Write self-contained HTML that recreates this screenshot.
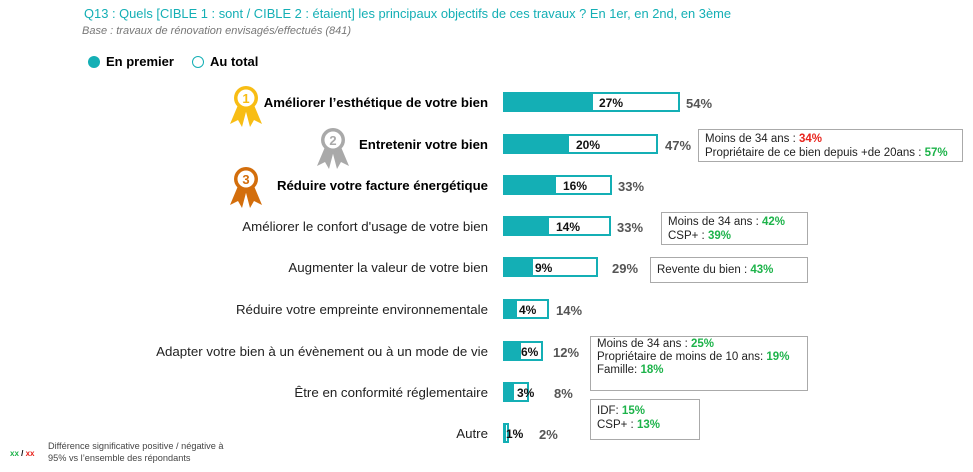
<!DOCTYPE html>
<html><head><meta charset="utf-8"><style>
body{margin:0;width:973px;height:472px;background:#fff;position:relative;overflow:hidden;font-family:"Liberation Sans",sans-serif}
.a{position:absolute;white-space:nowrap}
.lbl{position:absolute;right:485px;font-size:13.3px;color:#222;white-space:nowrap}
.b{font-weight:bold;color:#000;font-size:13.2px}
.bar{position:absolute;left:503px;height:20px;border:2px solid #14afb5;box-sizing:border-box;background:#fff}
.fill{position:absolute;left:503px;height:20px;background:#14afb5}
.in{position:absolute;font-size:12px;font-weight:bold;color:#111}
.tot{position:absolute;font-size:13px;font-weight:bold;color:#555}
.box{position:absolute;border:1px solid #aaa;font-size:11.5px;color:#222;line-height:14px;padding:2px 6px;box-sizing:border-box}
.g{color:#1db34a;font-weight:bold}.r{color:#e8231c;font-weight:bold}
</style></head><body>
<div class="a" style="left:84px;top:6px;font-size:12.9px;color:#14afb5">Q13 : Quels [CIBLE 1 : sont / CIBLE 2 : étaient] les principaux objectifs de ces travaux ? En 1er, en 2nd, en 3ème</div>
<div class="a" style="left:82px;top:25px;font-size:11px;color:#777;font-style:italic">Base : travaux de rénovation envisagés/effectués (841)</div>
<div class="a" style="left:88px;top:56px;width:12px;height:12px;border-radius:50%;background:#14afb5"></div>
<div class="a" style="left:106px;top:54px;font-size:13px;font-weight:bold">En premier</div>
<div class="a" style="left:192px;top:56px;width:10px;height:10px;border-radius:50%;border:1.5px solid #14afb5"></div>
<div class="a" style="left:210px;top:54px;font-size:13px;font-weight:bold">Au total</div>

<svg class="a" style="left:0;top:0" width="973" height="472">
<g fill="#f8bd14"><polygon points="238,105 230,124 238,120 242,127 247,108"/><polygon points="254,105 262,124 254,120 250,127 245,108"/><circle cx="246" cy="98" r="12"/></g>
<circle cx="246" cy="98" r="8.5" fill="#fff"/><text x="246" y="103" font-size="13" font-weight="bold" fill="#f8bd14" text-anchor="middle" font-family="Liberation Sans">1</text>
<g fill="#a9a9a9"><polygon points="325,147 317,166 325,162 329,169 334,150"/><polygon points="341,147 349,166 341,162 337,169 332,150"/><circle cx="333" cy="140" r="12"/></g>
<circle cx="333" cy="140" r="8.5" fill="#fff"/><text x="333" y="145" font-size="13" font-weight="bold" fill="#a9a9a9" text-anchor="middle" font-family="Liberation Sans">2</text>
<g fill="#d36e0c"><polygon points="238,186 230,205 238,201 242,208 247,189"/><polygon points="254,186 262,205 254,201 250,208 245,189"/><circle cx="246" cy="179" r="12"/></g>
<circle cx="246" cy="179" r="8.5" fill="#fff"/><text x="246" y="184" font-size="13" font-weight="bold" fill="#d36e0c" text-anchor="middle" font-family="Liberation Sans">3</text>
</svg>

<div class="lbl b" style="top:95px">Améliorer l’esthétique de votre bien</div>
<div class="lbl b" style="top:137px">Entretenir votre bien</div>
<div class="lbl b" style="top:178px">Réduire votre facture énergétique</div>
<div class="lbl" style="top:219px">Améliorer le confort d'usage de votre bien</div>
<div class="lbl" style="top:260px">Augmenter la valeur de votre bien</div>
<div class="lbl" style="top:302px">Réduire votre empreinte environnementale</div>
<div class="lbl" style="top:344px">Adapter votre bien à un évènement ou à un mode de vie</div>
<div class="lbl" style="top:385px">Être en conformité réglementaire</div>
<div class="lbl" style="top:426px">Autre</div>

<div class="bar" style="top:92px;width:177px"></div><div class="fill" style="top:92px;width:90px"></div><div class="in" style="left:599px;top:96px">27%</div><div class="tot" style="left:686px;top:96px">54%</div>
<div class="bar" style="top:134px;width:155px"></div><div class="fill" style="top:134px;width:66px"></div><div class="in" style="left:576px;top:138px">20%</div><div class="tot" style="left:665px;top:138px">47%</div>
<div class="bar" style="top:175px;width:109px"></div><div class="fill" style="top:175px;width:53px"></div><div class="in" style="left:563px;top:179px">16%</div><div class="tot" style="left:618px;top:179px">33%</div>
<div class="bar" style="top:216px;width:108px"></div><div class="fill" style="top:216px;width:46px"></div><div class="in" style="left:556px;top:220px">14%</div><div class="tot" style="left:617px;top:220px">33%</div>
<div class="bar" style="top:257px;width:95px"></div><div class="fill" style="top:257px;width:30px"></div><div class="in" style="left:535px;top:261px">9%</div><div class="tot" style="left:612px;top:261px">29%</div>
<div class="bar" style="top:299px;width:46px"></div><div class="fill" style="top:299px;width:14px"></div><div class="in" style="left:519px;top:303px">4%</div><div class="tot" style="left:556px;top:303px">14%</div>
<div class="bar" style="top:341px;width:40px"></div><div class="fill" style="top:341px;width:18px"></div><div class="in" style="left:521px;top:345px">6%</div><div class="tot" style="left:553px;top:345px">12%</div>
<div class="bar" style="top:382px;width:26px"></div><div class="fill" style="top:382px;width:11px"></div><div class="in" style="left:517px;top:386px">3%</div><div class="tot" style="left:554px;top:386px">8%</div>
<div class="bar" style="top:423px;width:6px"></div><div class="fill" style="top:423px;width:3px"></div><div class="in" style="left:506px;top:427px">1%</div><div class="tot" style="left:539px;top:427px">2%</div>

<div class="box" style="left:698px;top:129px;width:265px;height:33px">Moins de 34 ans : <span class="r">34%</span><br>Propriétaire de ce bien depuis +de 20ans : <span class="g">57%</span></div>
<div class="box" style="left:661px;top:212px;width:147px;height:33px">Moins de 34 ans : <span class="g">42%</span><br>CSP+ : <span class="g">39%</span></div>
<div class="box" style="left:650px;top:257px;width:158px;height:26px;padding-top:5px">Revente du bien : <span class="g">43%</span></div>
<div class="box" style="left:590px;top:336px;width:218px;height:55px;line-height:13px;padding-top:1px">Moins de 34 ans : <span class="g">25%</span><br>Propriétaire de moins de 10 ans: <span class="g">19%</span><br>Famille: <span class="g">18%</span></div>
<div class="box" style="left:590px;top:399px;width:110px;height:41px;padding-top:4px">IDF: <span class="g">15%</span><br>CSP+ : <span class="g">13%</span></div>

<div class="a" style="left:10px;top:449px;font-size:8px;font-weight:bold"><span style="color:#1db34a">xx</span> / <span style="color:#e8231c">xx</span></div>
<div class="a" style="left:48px;top:440px;font-size:9.2px;color:#444;line-height:12px">Différence significative positive / négative à<br>95% vs l’ensemble des répondants</div>
</body></html>
